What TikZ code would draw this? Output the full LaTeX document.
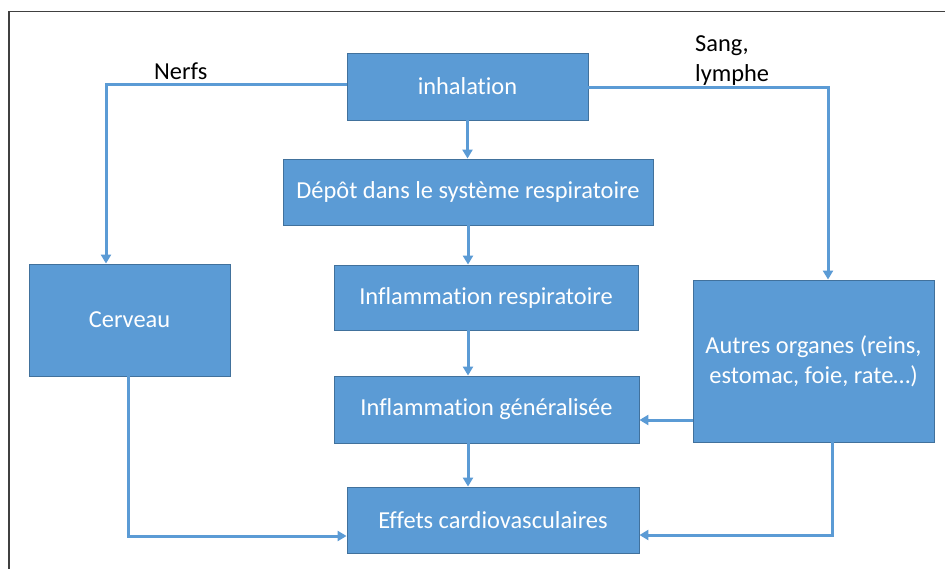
\documentclass[tikz,border=0pt]{standalone}
\usepackage{fontspec}
\setmainfont[Ligatures={NoCommon}]{Carlito}
\usetikzlibrary{arrows.meta}
\definecolor{boxfill}{HTML}{5B9BD5}
\definecolor{boxline}{HTML}{41719C}
\definecolor{frame}{HTML}{404040}
\tikzset{
  box/.style={draw=boxline, line width=0.9pt, fill=boxfill, text=white, inner sep=0pt,
    font=\fontsize{24.4}{30}\selectfont, align=center},
  conn/.style={draw=boxfill, line width=3pt, -{Triangle[length=9pt,width=10pt]}},
  lbl/.style={font=\fontsize{24.4}{30}\selectfont, text=black, inner sep=0pt}
}
\begin{document}
\begin{tikzpicture}[x=1pt,y=-1pt]
\useasboundingbox (0,0) rectangle (945,569);
\fill[white] (0,0) rectangle (945,569);
\draw[frame, line width=1.6pt] (9,569) -- (9,11.5) -- (945,11.5);

\node[box, minimum width=241pt, minimum height=67pt] (inh) at (467.5,86.5) {inhalation};
\node[box, minimum width=370pt, minimum height=66pt] (dep) at (468,192) {Dépôt dans le système respiratoire};
\node[box, minimum width=304pt, minimum height=65pt] (ir) at (486,297.5) {Inflammation respiratoire};
\node[box, minimum width=201pt, minimum height=112pt] (cer) at (129.5,320) {Cerveau};
\node[box, minimum width=241pt, minimum height=162pt] (aut) at (813.5,361) {Autres organes (reins,\\estomac, foie, rate…)};
\node[box, minimum width=305pt, minimum height=67pt] (ig) at (486.5,409.5) {Inflammation généralisée};
\node[box, minimum width=292pt, minimum height=66pt] (eff) at (493,520) {Effets cardiovasculaires};

\node[lbl, anchor=base west] (nerfs) at (154,80) {Nerfs};
\node[lbl, anchor=base west, align=left] (sang) at (695,82) {Sang,\\lymphe};

\draw[conn] ([yshift=1.5pt]inh.west) -| ([xshift=-23.5pt]cer.north);
\draw[conn] ([yshift=-1.5pt]inh.east) -| ([xshift=14.5pt]aut.north);
\draw[conn] (inh.south) -- (inh.south |- dep.north);
\draw[conn] (dep.south) -- (dep.south |- ir.north);
\draw[conn] (dep.south |- ir.south) -- (dep.south |- ig.north);
\draw[conn] (dep.south |- ig.south) -- (dep.south |- eff.north);
\draw[conn] ([xshift=-1.5pt]cer.south) |- ([yshift=-16pt]eff.west);
\draw[conn] ([xshift=18.5pt]aut.south) |- ([yshift=-15pt]eff.east);
\draw[conn] ([yshift=-59pt]aut.west) -- ([yshift=-59pt]aut.west -| ig.east);
\end{tikzpicture}
\end{document}
